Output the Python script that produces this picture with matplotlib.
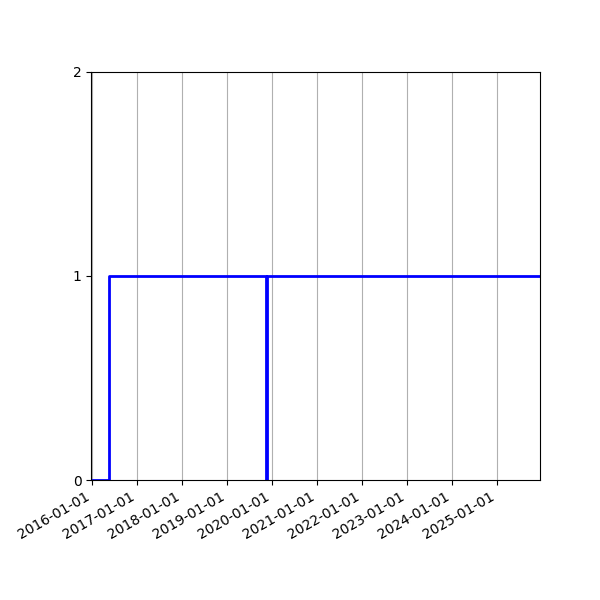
import numpy as np
import pandas as pd
import matplotlib
matplotlib.use("Agg")
import matplotlib.pyplot as plt
import matplotlib.dates as mdates

# --- datos ---
dates = pd.to_datetime(['2015-12-26', '2016-05-18', '2019-11-11', '2019-11-19', '2025-12-16'])
values = [0, 1, 0, 1, 1]
y_ticks = [0, 1, 2]

fig = plt.figure(figsize=(6, 6), dpi=100)
ax = fig.add_axes([0.152, 0.2, 0.748, 0.68])

ax.plot(dates, values, drawstyle='steps-post', color='blue', linewidth=2)

ax.set_xlim(dates[0], dates[-1])
ax.set_ylim(0, 2)
ax.set_yticks(y_ticks)
ax.xaxis.set_major_locator(mdates.YearLocator())
ax.xaxis.set_major_formatter(mdates.DateFormatter('%Y-%m-%d'))
ax.grid(True, axis='x')

for lbl in ax.get_xticklabels():
    lbl.set_rotation(30)
    lbl.set_ha('right')

fig.savefig('out.png', dpi=100)
